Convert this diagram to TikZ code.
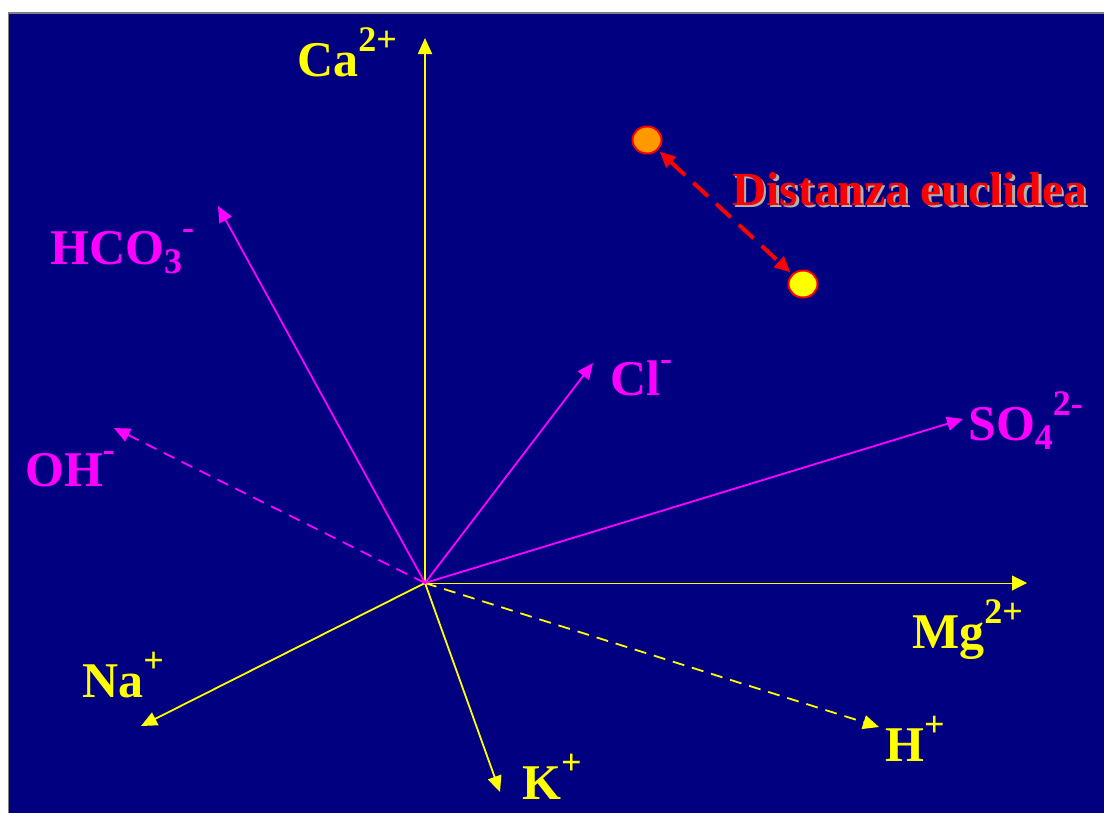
\documentclass[tikz,border=0pt]{standalone}
\usepackage{fontspec}
\setmainfont{Liberation Serif}
\usetikzlibrary{arrows.meta,shapes.geometric}
\definecolor{navy}{RGB}{0,0,128}
\definecolor{yel}{RGB}{255,255,0}
\definecolor{mag}{RGB}{255,0,255}
\definecolor{ptorange}{RGB}{255,153,0}
\definecolor{bordgray}{RGB}{128,128,128}
\definecolor{shadowgray}{RGB}{176,176,176}
\newcommand\ionsup[1]{\raisebox{25pt}{\fontsize{36}{36}\selectfont #1}}
\newcommand\ionsub[1]{\raisebox{-9pt}{\fontsize{36}{36}\selectfont #1}}
\begin{document}
\begin{tikzpicture}[x=1pt,y=-1pt,
  lab/.style={anchor=base west, inner sep=0pt, font=\bfseries\fontsize{50}{50}\selectfont},
  ylab/.style={lab, text=yel},
  mlab/.style={lab, text=mag},
  tip/.style={-{Triangle[length=16pt,width=14pt]}},
  yvec/.style={draw=yel, line width=1.8pt, tip},
  mvec/.style={draw=mag, line width=1.8pt, tip},
  dsh/.style={dash pattern=on 12pt off 8pt},
  pt/.style={ellipse, draw=red, line width=2pt, minimum width=29pt, minimum height=27pt, inner sep=0pt}
]
\useasboundingbox (0,0) rectangle (1104,812);
\fill[white] (0,0) rectangle (1104,812);
\fill[bordgray] (7.5,12) rectangle (1110,820);
\fill[navy] (9.2,13.7) rectangle (1110,820);

\coordinate (O) at (425,583);
\coordinate (ca) at (425,38);
\coordinate (mg) at (1027,583);
\coordinate (na) at (141,726);
\coordinate (k) at (500,792);
\coordinate (h) at (879,727);
\coordinate (hco) at (218,206);
\coordinate (cl) at (593,363);
\coordinate (so) at (963,419);
\coordinate (oh) at (114,428);

\draw[yvec] (O) -- (ca);
\draw[draw=yel, line width=1pt, -{Triangle[length=15pt,width=15pt]}] (O) -- (mg);
\draw[yvec] (O) -- (na);
\draw[yvec] (O) -- (k);
\draw[yvec, dsh] (O) -- (h);
\draw[mvec] (O) -- (hco);
\draw[mvec] (O) -- (cl);
\draw[mvec] (O) -- (so);
\draw[mvec, dsh] (O) -- (oh);

\node[ylab] (lca) at (297,76) {Ca\ionsup{2+}};
\node[ylab] (lmg) at (912,648) {Mg\ionsup{2+}};
\node[ylab] (lna) at (82,697) {Na\ionsup{+}};
\node[ylab] (lk) at (522,799) {K\ionsup{+}};
\node[ylab] (lh) at (885,761) {H\ionsup{+}};
\node[mlab] (lhco) at (50,264) {HCO\ionsub{3}\ionsup{-}};
\node[mlab] (lcl) at (610,395) {Cl\ionsup{-}};
\node[mlab] (lso) at (968,440) {SO\ionsub{4}\ionsup{2-}};
\node[mlab] (loh) at (25,486) {OH\ionsup{-}};

\node[pt, fill=ptorange] (p1) at (647,140) {};
\node[pt, fill=yel] (p2) at (803,284) {};
\draw[red, line width=4pt, dash pattern=on 20pt off 11pt,
  {Triangle[length=16pt,width=14pt]}-{Triangle[length=16pt,width=14pt]}, shorten <=2pt, shorten >=2pt] (p1) -- (p2);

\node[lab, text=shadowgray, font=\bfseries\fontsize{47.5}{47.5}\selectfont] (dshadow) at (734.5,207.5) {Distanza euclidea};
\node[lab, text=red, font=\bfseries\fontsize{47.5}{47.5}\selectfont] (dist) at (732,205) {Distanza euclidea};
\end{tikzpicture}
\end{document}
